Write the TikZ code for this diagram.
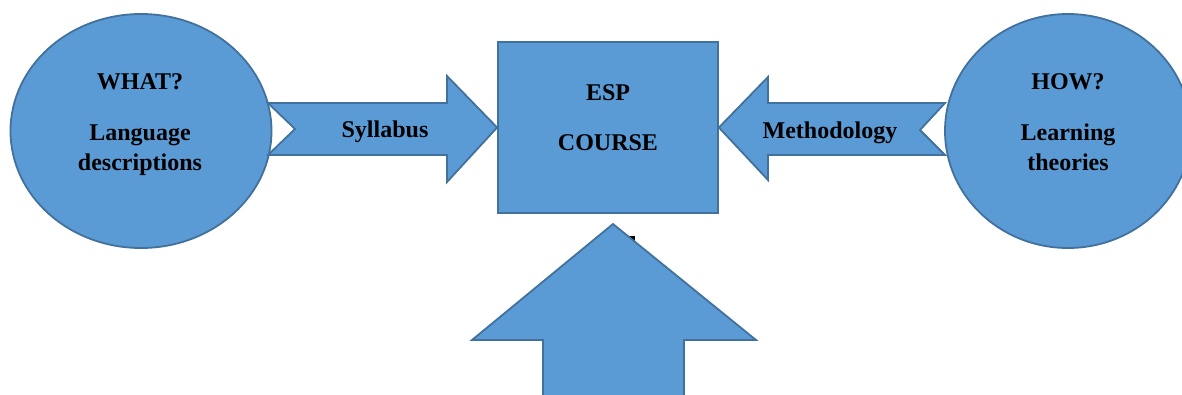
\documentclass[tikz,border=0pt]{standalone}
\usepackage{fontspec}
\setmainfont{Liberation Serif}
\usetikzlibrary{shapes.geometric}

\definecolor{blockfill}{HTML}{5B9BD5}
\definecolor{blockline}{HTML}{41719C}

\tikzset{
  blockshape/.style={fill=blockfill, draw=blockline, line width=1.8pt, line join=miter},
  ovalnode/.style={blockshape, ellipse, inner sep=0pt},
  label text/.style={font=\bfseries\fontsize{24}{28}\selectfont, text=black, inner sep=0pt, anchor=base}
}

\begin{document}
\begin{tikzpicture}[x=1pt, y=-1pt]
  \useasboundingbox (0,0) rectangle (1182,394);
  \fill[white] (0,0) rectangle (1182,394);

  % central box
  \node[blockshape, minimum width=220pt, minimum height=171pt, inner sep=0pt] (course) at (608,127.5) {};
  \node[label text] (esp) at (608,100) {ESP};
  \node[label text] (coursetxt) at (608,150.5) {COURSE};

  % left oval
  \node[ovalnode, minimum width=261pt, minimum height=234pt] (what) at (141,131) {};
  \node[label text] (whattxt) at (140,89) {WHAT?};
  \node[label text] (langtxt) at (140,140) {Language};
  \node[label text] (desctxt) at (140,170) {descriptions};

  % right oval
  \node[ovalnode, minimum width=246pt, minimum height=234pt] (how) at (1068,131) {};
  \node[label text] (howtxt) at (1068,89) {HOW?};
  \node[label text] (learntxt) at (1068,140) {Learning};
  \node[label text] (theotxt) at (1068,170) {theories};

  % notched arrow: oval -> course (Syllabus)
  \draw[blockshape] (268,103) -- (447,103) -- (447,76) -- (course.west) -- (447,182)
        -- (447,155) -- (268,155) -- (295,129) -- cycle;
  \node[label text] (syllabus) at (385,137) {Syllabus};

  % notched arrow: oval -> course (Methodology)
  \draw[blockshape] (945,103) -- (768,103) -- (768,77) -- (course.east) -- (768,180)
        -- (768,155) -- (945,155) -- (920,130) -- cycle;
  \node[label text] (method) at (830,138) {Methodology};

  % small mark behind the upward arrow
  \fill[black] (629,236) rectangle (635,241);

  % upward block arrow below the course
  \coordinate (uptip) at (613,224);
  \draw[blockshape] (543,400) -- (543,340) -- (472,340) -- (uptip) -- (756,340)
        -- (684,340) -- (684,400);
\end{tikzpicture}
\end{document}
